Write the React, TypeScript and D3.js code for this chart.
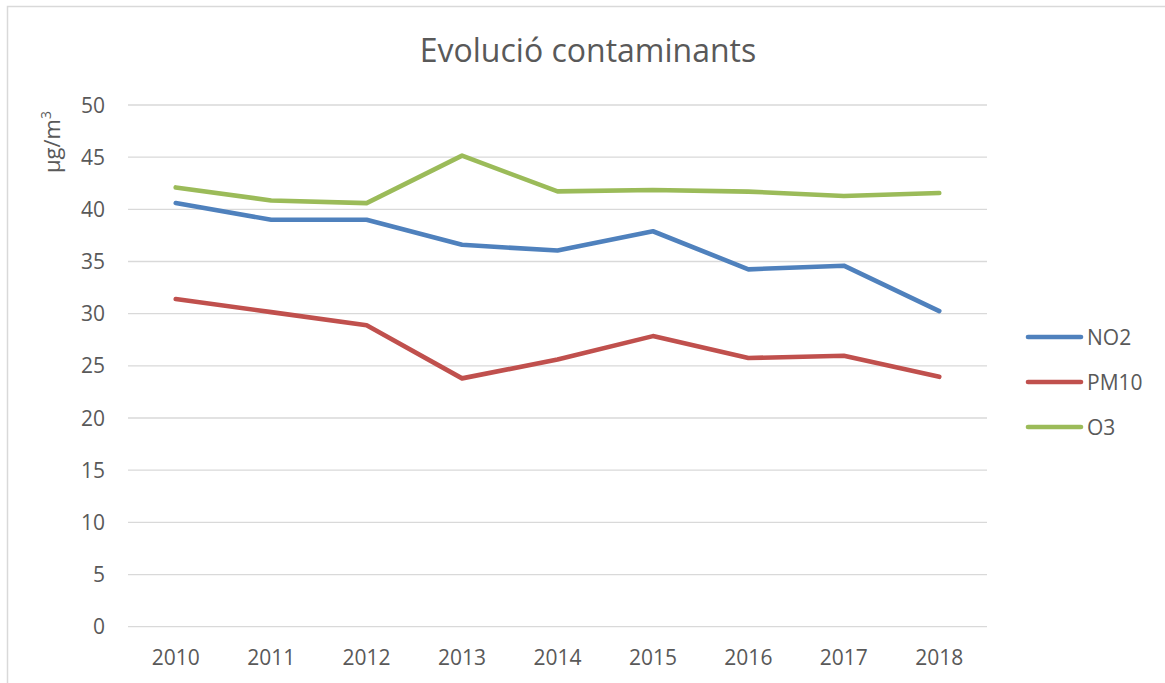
import React from "react";
import * as d3 from "d3";

const years = ["2010", "2011", "2012", "2013", "2014", "2015", "2016", "2017", "2018"];
const no2 = [40.6, 39.0, 39.0, 36.6, 36.05, 37.9, 34.25, 34.6, 30.25];
const pm10 = [31.4, 30.15, 28.9, 23.8, 25.6, 27.85, 25.75, 25.97, 23.95];
const o3 = [42.1, 40.85, 40.6, 45.15, 41.72, 41.85, 41.7, 41.28, 41.57];
const yTicks = [0, 5, 10, 15, 20, 25, 30, 35, 40, 45, 50];
const seriesNames = ["NO2", "PM10", "O3"];
const seriesColors = ["#4F81BD", "#C0504D", "#9BBB59"];

const W = 1165;
const H = 683;
const FONT = "'Open Sans', sans-serif";
const TEXT = "#595959";

export default function App() {
  const x = d3.scaleBand<string>().domain(years).range([128, 987]).padding(0);
  const y = d3.scaleLinear().domain([0, 50]).range([626.7, 105]);
  const cx = (d: string) => (x(d) as number) + x.bandwidth() / 2;
  const line = d3
    .line<number>()
    .x((_, i) => cx(years[i]))
    .y((v) => y(v));
  const series = [no2, pm10, o3];

  return (
    <svg
      width={W}
      height={H}
      style={{ position: "absolute", left: 0, top: 0, background: "#fff" }}
      fontFamily={FONT}
    >
      <rect x={7.5} y={6.5} width={1170} height={690} fill="#fff" stroke="#d9d9d9" strokeWidth={1.5} />
      <text x={588} y={62} textAnchor="middle" fontSize={32} fill={TEXT}>
        Evolució contaminants
      </text>
      {yTicks.map((t) => (
        <g key={t}>
          <line x1={128} x2={987} y1={y(t)} y2={y(t)} stroke="#d9d9d9" strokeWidth={1.3} />
          <text x={105} y={y(t)} dy="0.36em" textAnchor="end" fontSize={21} fill={TEXT}>
            {t}
          </text>
        </g>
      ))}
      {years.map((yr) => (
        <text key={yr} x={cx(yr)} y={665} textAnchor="middle" fontSize={21} fill={TEXT}>
          {yr}
        </text>
      ))}
      <text transform="translate(60,142) rotate(-90)" textAnchor="middle" fontSize={22} fill={TEXT}>
        µg/m<tspan dy={-9} fontSize={14}>3</tspan>
      </text>
      {series.map((s, i) => (
        <path
          key={seriesNames[i]}
          d={line(s) as string}
          fill="none"
          stroke={seriesColors[i]}
          strokeWidth={4.6}
          strokeLinecap="round"
          strokeLinejoin="round"
        />
      ))}
      {seriesNames.map((n, i) => (
        <g key={n}>
          <line
            x1={1028}
            x2={1081}
            y1={337 + i * 45}
            y2={337 + i * 45}
            stroke={seriesColors[i]}
            strokeWidth={4.6}
            strokeLinecap="round"
          />
          <text x={1087} y={337 + i * 45} dy="0.36em" fontSize={21} fill={TEXT}>
            {n}
          </text>
        </g>
      ))}
    </svg>
  );
}
